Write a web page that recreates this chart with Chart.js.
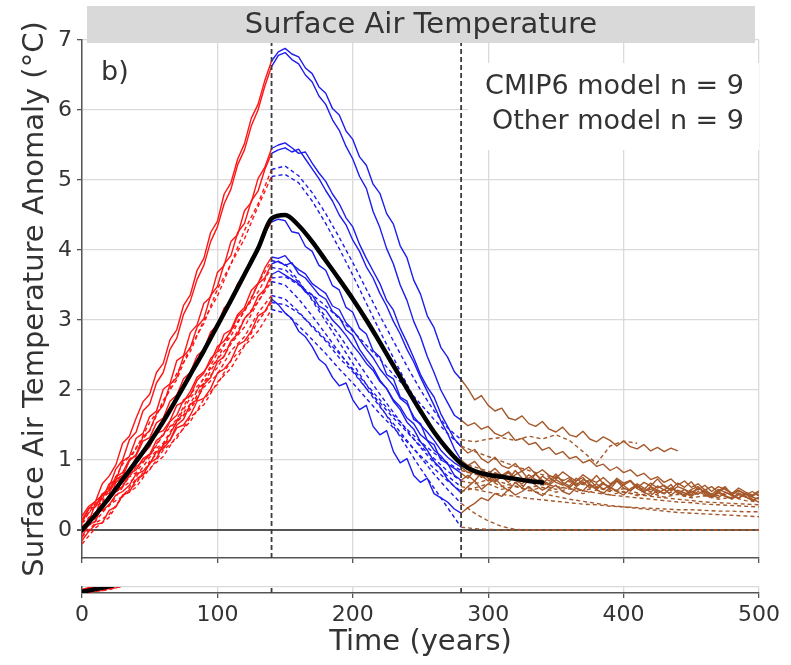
<!DOCTYPE html>
<html>
<head>
<meta charset="utf-8">
<script src="https://cdn.jsdelivr.net/npm/chart.js@4.4.1/dist/chart.umd.min.js"></script>
<style>
  html, body { margin: 0; padding: 0; background: #fff; }
  #wrap { position: relative; width: 791px; height: 665px; }
  canvas { position: absolute; left: 0; }
  #main { top: 0; }
  #strip { top: 560px; }
</style>
</head>
<body>
<div id="wrap">
  <canvas id="main" width="791" height="600"></canvas>
  <canvas id="strip" width="791" height="105"></canvas>
</div>
<script>
// axis ticks and limits
const xTicks = [0, 100, 200, 300, 400, 500];
const yTicks = [0, 1, 2, 3, 4, 5, 6, 7];
const yRange = [-0.4, 7];
const stripRange = [-0.1, 0.4];
// end of ramp-up and end of ramp-down (years)
const phaseBounds = [140, 280];

const panelTitle = 'Surface Air Temperature';
const panelTag = 'b)';
const modelCounts = ['CMIP6 model n = 9', 'Other model n = 9'];

const years5 = [
  0, 5, 10, 15, 20, 25, 30, 35, 40, 45,
  50, 55, 60, 65, 70, 75, 80, 85, 90, 95,
  100, 105, 110, 115, 120, 125, 130, 135, 140, 145,
  150, 155, 160, 165, 170, 175, 180, 185, 190, 195,
  200, 205, 210, 215, 220, 225, 230, 235, 240, 245,
  250, 255, 260, 265, 270, 275, 280, 285, 290, 295,
  300, 305, 310, 315, 320, 325, 330, 335, 340, 345,
  350, 355, 360, 365, 370, 375, 380, 385, 390, 395,
  400, 405, 410, 415, 420, 425, 430, 435, 440, 445,
  450, 455, 460, 465, 470, 475, 480, 485, 490, 495,
  500
];
const years10 = [
  0, 10, 20, 30, 40, 50, 60, 70, 80, 90,
  100, 110, 120, 130, 140, 150, 160, 170, 180, 190,
  200, 210, 220, 230, 240, 250, 260, 270, 280, 290,
  300, 310, 320, 330, 340, 350, 360, 370, 380, 390,
  400, 410, 420, 430, 440, 450, 460, 470, 480, 490,
  500
];
const meanYears = [
  0, 10, 20, 30, 40, 50, 60, 70, 80, 90,
  100, 110, 120, 130, 140, 150, 160, 170, 180, 190,
  200, 210, 220, 230, 240, 250, 260, 270, 280, 290,
  300, 310, 320, 330, 340
];

// multi-model mean (°C)
const meanAnomaly = [
  0.00, 0.22, 0.46, 0.72, 0.98, 1.25, 1.55, 1.88, 2.22, 2.56,
  2.92, 3.28, 3.65, 4.02, 4.45, 4.50, 4.35, 4.12, 3.85, 3.58,
  3.30, 3.00, 2.68, 2.35, 2.02, 1.70, 1.40, 1.15, 0.95, 0.84,
  0.79, 0.76, 0.73, 0.70, 0.68
];

// CMIP6 runs on years5: 0-140 / 145-280 / 285-500
const cmip1 = [
  0.10, 0.30, 0.41, 0.66, 0.77, 0.93, 1.24, 1.34, 1.60, 1.83, 1.94, 2.25, 2.38, 2.72, 2.86, 3.21, 3.36, 3.71, 3.88, 4.25, 4.41, 4.80, 4.96, 5.30, 5.52, 5.88, 6.08, 6.42, 6.70,
  6.83, 6.88, 6.80, 6.76, 6.60, 6.52, 6.33, 6.24, 6.02, 5.93, 5.70, 5.58, 5.33, 5.21, 4.94, 4.81, 4.52, 4.37, 4.06, 3.89, 3.57, 3.37, 3.06, 2.89, 2.61, 2.47, 2.26, 2.15,
  2.02, 1.86, 1.92, 1.78, 1.70, 1.74, 1.60, 1.57, 1.63, 1.52, 1.48, 1.55, 1.44, 1.40, 1.47, 1.36, 1.33, 1.41, 1.30, 1.26, 1.33, 1.28, 1.20, 1.27, 1.19, 1.16, 1.22, 1.13, 1.18, 1.12, 1.17, 1.13,
  null, null, null, null, null, null, null, null, null, null, null, null
];
const cmip2 = [
  -0.05, 0.18, 0.22, 0.50, 0.61, 0.87, 1.00, 1.29, 1.40, 1.70, 1.80, 2.10, 2.25, 2.58, 2.74, 3.08, 3.27, 3.58, 3.78, 4.12, 4.33, 4.66, 4.87, 5.22, 5.43, 5.77, 6.00, 6.34, 6.62,
  6.78, 6.82, 6.72, 6.66, 6.50, 6.40, 6.20, 6.08, 5.86, 5.71, 5.48, 5.30, 5.05, 4.88, 4.55, 4.32, 4.02, 3.80, 3.50, 3.28, 2.98, 2.76, 2.48, 2.25, 2.00, 1.82, 1.64, 1.57,
  1.49, 1.53, 1.44, 1.48, 1.38, 1.34, 1.40, 1.28, 1.31, 1.22, 1.25, 1.14, 1.18, 1.08, 1.12, 1.02, 1.05, 0.96, 1.00, 0.91, 0.94, 0.85, 0.90, 0.82, 0.86, 0.77, 0.81, 0.72, 0.76, 0.68,
  0.73, 0.64, 0.70, 0.61, 0.66, 0.57, 0.62, 0.54, 0.60, 0.52, 0.57, 0.50, 0.55, 0.49
];
const cmip3 = [
  0.05, 0.12, 0.38, 0.44, 0.66, 0.71, 0.98, 1.05, 1.31, 1.38, 1.62, 1.70, 2.01, 2.09, 2.42, 2.49, 2.82, 2.93, 3.24, 3.33, 3.68, 3.78, 4.12, 4.22, 4.56, 4.68, 5.02, 5.18, 5.45,
  5.50, 5.53, 5.46, 5.38, 5.40, 5.24, 5.10, 4.98, 4.80, 4.66, 4.46, 4.33, 4.08, 3.88, 3.70, 3.52, 3.28, 3.14, 2.88, 2.68, 2.46, 2.22, 2.04, 1.90, 1.66, 1.48, 1.30, 1.19,
  1.10, 1.15, 1.02, 0.96, 1.04, 0.92, 0.88, 0.95, 0.84, 0.90, 0.80, 0.86, 0.78, 0.74, 0.83, 0.76, 0.70, 0.79, 0.72, 0.68, 0.75, 0.66, 0.72, 0.64, 0.70, 0.62, 0.58, 0.67, 0.60, 0.64,
  0.56, 0.62, 0.58, 0.53, 0.60, 0.55, 0.51, 0.58, 0.54, 0.50, 0.56, 0.52, 0.48, 0.54
];
const cmip4 = [
  -0.10, 0.08, 0.12, 0.38, 0.42, 0.68, 0.76, 0.99, 1.08, 1.33, 1.42, 1.66, 1.78, 2.08, 2.18, 2.48, 2.60, 2.90, 3.02, 3.35, 3.48, 3.80, 3.92, 4.25, 4.38, 4.70, 4.84, 5.15, 5.38,
  5.43, 5.46, 5.40, 5.44, 5.30, 5.16, 5.02, 4.85, 4.70, 4.50, 4.36, 4.14, 3.98, 3.76, 3.60, 3.38, 3.20, 2.98, 2.80, 2.58, 2.40, 2.18, 1.98, 1.78, 1.56, 1.38, 1.16, 1.00,
  0.92, 0.98, 0.86, 0.80, 0.88, 0.78, 0.84, 0.74, 0.70, 0.79, 0.72, 0.66, 0.75, 0.68, 0.64, 0.72, 0.62, 0.69, 0.60, 0.66, 0.58, 0.64, 0.70, 0.60, 0.56, 0.63, 0.55, 0.61, 0.52, 0.58,
  0.50, 0.57, 0.53, 0.48, 0.55, 0.50, 0.46, 0.53, 0.48, 0.44, 0.51, 0.47, 0.43, 0.46
];
const cmip5 = [
  0.15, 0.31, 0.33, 0.52, 0.56, 0.76, 0.82, 1.01, 1.06, 1.27, 1.32, 1.53, 1.60, 1.84, 1.93, 2.16, 2.25, 2.49, 2.58, 2.83, 2.93, 3.17, 3.27, 3.52, 3.62, 3.88, 3.98, 4.24, 4.40,
  4.44, 4.42, 4.26, 4.24, 4.05, 3.98, 3.78, 3.71, 3.49, 3.43, 3.18, 3.11, 2.88, 2.80, 2.56, 2.47, 2.22, 2.16, 1.90, 1.84, 1.58, 1.52, 1.28, 1.22, 1.00, 0.95, 0.78, 0.71,
  0.78, 0.70, 0.82, 0.74, 0.68, 0.79, 0.72, 0.85, 0.74, 0.69, 0.80, 0.71, 0.66, 0.77, 0.70, 0.75, 0.64, 0.72, 0.68, 0.78, 0.66, 0.62, 0.74, 0.67, 0.71, 0.60, 0.68, 0.63, 0.73, 0.62,
  0.58, 0.67, 0.61, 0.69, 0.57, 0.64, 0.55, 0.62, 0.58, 0.52, 0.60, 0.54, 0.50, 0.56
];
const cmip6 = [
  0.00, 0.14, 0.16, 0.33, 0.44, 0.55, 0.62, 0.80, 0.86, 1.02, 1.08, 1.28, 1.35, 1.55, 1.64, 1.86, 1.92, 2.14, 2.24, 2.45, 2.55, 2.80, 2.86, 3.08, 3.18, 3.42, 3.52, 3.74, 3.90,
  3.88, 3.92, 3.80, 3.72, 3.66, 3.52, 3.45, 3.38, 3.20, 3.15, 2.96, 2.86, 2.72, 2.58, 2.46, 2.30, 2.18, 2.06, 1.88, 1.80, 1.62, 1.50, 1.40, 1.28, 1.14, 1.04, 0.96, 0.90,
  0.82, 0.86, 0.75, 0.80, 0.70, 0.76, 0.82, 0.71, 0.66, 0.74, 0.80, 0.69, 0.64, 0.72, 0.66, 0.60, 0.70, 0.75, 0.64, 0.58, 0.66, 0.61, 0.56, 0.65, 0.70, 0.59, 0.54, 0.62, 0.57, 0.52,
  0.60, 0.55, 0.50, 0.58, 0.62, 0.52, 0.47, 0.55, 0.49, 0.45, 0.53, 0.48, 0.42, 0.47
];
const cmip7 = [
  0.20, 0.34, 0.41, 0.50, 0.52, 0.72, 0.78, 0.85, 1.04, 1.08, 1.19, 1.38, 1.42, 1.56, 1.78, 1.83, 1.98, 2.18, 2.26, 2.40, 2.62, 2.70, 2.84, 3.05, 3.14, 3.30, 3.52, 3.60, 3.80,
  3.84, 3.78, 3.82, 3.66, 3.60, 3.48, 3.36, 3.30, 3.12, 3.04, 2.86, 2.78, 2.58, 2.44, 2.32, 2.14, 2.02, 1.84, 1.72, 1.54, 1.44, 1.26, 1.14, 0.98, 0.88, 0.72, 0.62, 0.53,
  0.62, 0.70, 0.58, 0.66, 0.74, 0.63, 0.56, 0.68, 0.60, 0.72, 0.64, 0.57, 0.62,
  null, null, null, null, null, null, null, null, null, null, null, null, null, null, null, null,
  null, null, null, null, null, null, null, null, null, null, null, null, null, null, null
];
const cmip8 = [
  -0.15, -0.02, 0.08, 0.10, 0.28, 0.33, 0.50, 0.54, 0.72, 0.78, 0.96, 1.02, 1.22, 1.28, 1.50, 1.58, 1.80, 1.86, 2.08, 2.18, 2.40, 2.48, 2.70, 2.80, 3.02, 3.12, 3.34, 3.44, 3.65,
  3.70, 3.64, 3.58, 3.52, 3.40, 3.36, 3.20, 3.14, 3.00, 2.90, 2.78, 2.64, 2.52, 2.38, 2.28, 2.12, 2.02, 1.86, 1.76, 1.60, 1.52, 1.36, 1.28, 1.14, 1.06, 0.94, 0.88, 0.81,
  0.74, 0.86, 0.78, 0.70, 0.82, 0.76, 0.68, 0.79, 0.84, 0.72, 0.66, 0.77, 0.70, 0.80, 0.68, 0.63, 0.74, 0.66, 0.72, 0.61, 0.68, 0.58, 0.70, 0.64, 0.56, 0.66, 0.60, 0.54, 0.63, 0.57,
  0.65, 0.52, 0.58, 0.50, 0.60, 0.54, 0.48, 0.56, 0.62, 0.50, 0.46, 0.52, 0.44, 0.40
];
const cmip9 = [
  0.05, 0.08, 0.24, 0.28, 0.36, 0.50, 0.55, 0.64, 0.80, 0.84, 0.94, 1.12, 1.16, 1.28, 1.46, 1.50, 1.64, 1.84, 1.88, 2.02, 2.24, 2.30, 2.42, 2.64, 2.70, 2.84, 3.06, 3.12, 3.30,
  3.22, 3.10, 3.02, 2.84, 2.76, 2.62, 2.44, 2.36, 2.18, 2.06, 2.10, 1.86, 1.72, 1.78, 1.48, 1.36, 1.42, 1.12, 0.96, 1.02, 0.78, 0.68, 0.74, 0.52, 0.46, 0.40, 0.30, 0.24,
  0.32, 0.38, 0.46, 0.42, 0.52, 0.48, 0.58, 0.50, 0.55, 0.62, 0.54, 0.49, 0.58, 0.64, 0.55, 0.51, 0.60, 0.56, 0.66, 0.58, 0.52, 0.61, 0.55, 0.50, 0.59, 0.64, 0.54, 0.49, 0.57, 0.52,
  0.60, 0.54, 0.48, 0.56, 0.51, 0.58, 0.50, 0.46, 0.54, 0.49, 0.45, 0.52, 0.47, 0.44
];

// other models on years10: 0-140 / 150-280 / 290-500
const other1 = [
  0.00, 0.22, 0.58, 0.80, 1.18, 1.42, 1.85, 2.15, 2.62, 2.95, 3.44, 3.80, 4.28, 4.66, 5.15,
  5.20, 5.06, 4.82, 4.52, 4.18, 3.82, 3.44, 3.06, 2.70, 2.34, 2.00, 1.70, 1.46, 1.29,
  1.26, 1.30, 1.32, 1.28, 1.34, 1.30, 1.36, 1.28, 1.12, 0.95, 1.20, 1.27, 1.24,
  null, null, null, null, null, null, null, null, null
];
const other2 = [
  0.10, 0.38, 0.58, 0.94, 1.16, 1.54, 1.80, 2.24, 2.55, 3.00, 3.34, 3.80, 4.16, 4.62, 5.05,
  5.08, 4.96, 4.70, 4.38, 4.02, 3.64, 3.24, 2.84, 2.46, 2.08, 1.72, 1.40, 1.14, 0.95,
  0.90, 0.84, 0.79, 0.74, 0.70, 0.66, 0.62, 0.59, 0.56, 0.53, 0.50, 0.48, 0.46, 0.44, 0.42, 0.40, 0.39, 0.37, 0.36, 0.35, 0.34, 0.33
];
const other3 = [
  -0.20, 0.03, 0.18, 0.49, 0.66, 0.98, 1.18, 1.55, 1.80, 2.18, 2.44, 2.84, 3.12, 3.52, 3.85,
  3.80, 3.56, 3.28, 2.98, 2.68, 2.38, 2.08, 1.78, 1.48, 1.18, 0.88, 0.60, 0.32, 0.04,
  0.02, 0.01, 0.00, 0.00, 0.00, 0.00, 0.00, 0.00, 0.00, 0.00, 0.00, 0.00, 0.00, 0.00, 0.00, 0.00, 0.00, 0.00, 0.00, 0.00, 0.00, 0.00
];
const other4 = [
  0.05, 0.20, 0.46, 0.62, 0.90, 1.07, 1.38, 1.58, 1.94, 2.16, 2.53, 2.77, 3.14, 3.40, 3.75,
  3.72, 3.54, 3.30, 3.04, 2.78, 2.50, 2.22, 1.94, 1.68, 1.42, 1.18, 0.96, 0.77, 0.62,
  0.58, 0.54, 0.51, 0.48, 0.45, 0.43, 0.41, 0.39, 0.37, 0.36, 0.34, 0.33, 0.32, 0.31, 0.30, 0.29, 0.29, 0.28, 0.27, 0.27, 0.26, 0.26
];
const other5 = [
  0.00, 0.21, 0.34, 0.61, 0.76, 1.04, 1.22, 1.54, 1.75, 2.10, 2.32, 2.66, 2.90, 3.26, 3.55,
  3.50, 3.30, 3.06, 2.80, 2.54, 2.28, 2.02, 1.76, 1.52, 1.28, 1.04, 0.80, 0.58, 0.38,
  0.24, 0.13, 0.05, 0.01, 0.00, 0.00, 0.00, 0.00, 0.00, 0.00, 0.00, 0.00, 0.00, 0.00, 0.00, 0.00, 0.00, 0.00, 0.00, 0.00, 0.00, 0.00
];
const other6 = [
  0.15, 0.34, 0.44, 0.70, 0.82, 1.10, 1.24, 1.55, 1.72, 2.04, 2.22, 2.56, 2.76, 3.10, 3.35,
  3.30, 3.12, 2.90, 2.70, 2.46, 2.26, 2.02, 1.82, 1.60, 1.40, 1.20, 1.02, 0.84, 0.70,
  0.66, 0.72, 0.62, 0.68, 0.60, 0.65, 0.58, 0.63, 0.56, 0.61, 0.55, 0.59, 0.53, 0.58, 0.52, 0.56, 0.50, 0.54, 0.49, 0.53, 0.48, 0.50
];
const other7 = [
  -0.10, 0.10, 0.22, 0.48, 0.61, 0.88, 1.05, 1.35, 1.55, 1.87, 2.08, 2.42, 2.64, 2.98, 3.25,
  3.22, 3.10, 2.92, 2.72, 2.52, 2.30, 2.08, 1.86, 1.64, 1.44, 1.26, 1.10, 0.96, 0.85,
  0.80, 0.74, 0.68, 0.62, 0.57, 0.52, 0.48, 0.44, 0.41, 0.38, 0.35, 0.33, 0.31, 0.29, 0.27, 0.25, 0.24, 0.23, 0.22, 0.21, 0.20, 0.19
];
const other8 = [
  0.00, 0.13, 0.36, 0.48, 0.73, 0.86, 1.14, 1.31, 1.61, 1.79, 2.11, 2.31, 2.63, 2.84, 3.15,
  3.10, 2.92, 2.72, 2.52, 2.30, 2.10, 1.88, 1.66, 1.46, 1.26, 1.06, 0.88, 0.70, 0.55,
  0.60, 0.66, 0.58, 0.63, 0.56, 0.61, 0.54, 0.59, 0.52, 0.57, 0.50, 0.55, 0.49, 0.53, 0.47, 0.51, 0.46, 0.49, 0.44, 0.47, 0.42, 0.40
];
const other9 = [
  0.10, 0.25, 0.49, 0.64, 0.91, 1.06, 1.36, 1.56, 1.89, 2.10, 2.44, 2.67, 3.02, 3.26, 3.60,
  3.62, 3.50, 3.36, 3.20, 3.02, 2.84, 2.64, 2.44, 2.22, 2.02, 1.80, 1.58, 1.38, 1.20,
  1.12, 1.05, 0.98, 0.91, 0.85, 0.79, 0.74, 0.69, 0.65, 0.61, 0.57, 0.54, 0.51, 0.48, 0.46, 0.44, 0.42, 0.40, 0.39, 0.38, 0.37, 0.36
];

const cmipRuns = [cmip1, cmip2, cmip3, cmip4, cmip5, cmip6, cmip7, cmip8, cmip9];
const otherRuns = [other1, other2, other3, other4, other5, other6, other7, other8, other9];

const FONT = 'DejaVu Sans';
const INK = '#333333';
const SPINE = '#555555';
const GRID = '#dadada';
const RED = '#ff1414';
const BLUE = '#1c1cf0';
const BROWN = '#a5582a';

Chart.defaults.font.family = FONT;
Chart.defaults.color = INK;

// split one run into its three phases (ramp-up, ramp-down, recovery)
function runSets(years, values, dashed) {
  const pts = years.map((x, i) => ({x: x, y: values[i]}));
  const a = years.indexOf(phaseBounds[0]);
  const b = years.indexOf(phaseBounds[1]);
  const style = {
    borderWidth: 1.4, borderDash: dashed ? [4, 3] : [], pointRadius: 0,
    clip: 0, borderJoinStyle: 'round', spanGaps: false
  };
  return {
    up: Object.assign({data: pts.slice(0, a + 1), borderColor: RED, order: 4}, style),
    down: Object.assign({data: pts.slice(a, b + 1), borderColor: BLUE, order: 3}, style),
    after: Object.assign({data: pts.slice(b), borderColor: BROWN, order: 2}, style)
  };
}

const runs = cmipRuns.map(v => runSets(years5, v, false))
  .concat(otherRuns.map(v => runSets(years10, v, true)));

function meanSet() {
  return {
    data: meanYears.map((x, i) => ({x: x, y: meanAnomaly[i]})),
    borderColor: '#000', borderWidth: 4.5, pointRadius: 0, clip: 0,
    cubicInterpolationMode: 'monotone', borderCapStyle: 'round', borderJoinStyle: 'round',
    order: 0
  };
}

function boundSets(range) {
  return phaseBounds.map(t => ({
    data: [{x: t, y: range[0]}, {x: t, y: range[1]}],
    borderColor: '#3c3c3c', borderWidth: 1.8, borderDash: [5, 3],
    pointRadius: 0, clip: 0, order: 1
  }));
}

const common = {
  responsive: false,
  animation: false,
  events: [],
  plugins: { legend: { display: false }, tooltip: { enabled: false } }
};

// title strip, panel tag and model counts
const decorations = {
  id: 'decorations',
  beforeDatasetsDraw(chart) {
    const {ctx, chartArea: a} = chart;
    ctx.save();
    ctx.fillStyle = '#ffffff';
    ctx.fillRect(468, 63, a.right - 468, 87);
    ctx.restore();
  },
  afterDraw(chart) {
    const {ctx, chartArea: a} = chart;
    ctx.save();
    ctx.fillStyle = '#d9d9d9';
    ctx.fillRect(87, 6, 668, 37);
    ctx.fillStyle = INK;
    ctx.textBaseline = 'middle';
    ctx.textAlign = 'center';
    ctx.font = '29px "' + FONT + '"';
    ctx.fillText(panelTitle, 421, 25);
    ctx.font = '27px "' + FONT + '"';
    ctx.textAlign = 'left';
    ctx.fillText(panelTag, a.left + 19, 73);
    ctx.textAlign = 'right';
    modelCounts.forEach((t, i) => ctx.fillText(t, a.right - 15, 87 + i * 35));
    ctx.restore();
  }
};

new Chart(document.getElementById('main'), {
  type: 'line',
  data: {
    datasets: [meanSet()].concat(boundSets(yRange),
      runs.map(r => r.after), runs.map(r => r.down), runs.map(r => r.up))
  },
  options: Object.assign({}, common, {
    layout: { padding: { top: 40, right: 32, left: 0, bottom: 0 } },
    scales: {
      x: {
        type: 'linear', min: 0, max: 500,
        afterBuildTicks: s => { s.ticks = xTicks.map(v => ({value: v})); },
        afterFit: s => { s.height = 42; },
        ticks: { callback: () => '', font: { size: 22 } },
        grid: { color: GRID, lineWidth: 1.3, tickLength: 5, tickColor: SPINE },
        border: { display: true, color: SPINE, width: 1.5 }
      },
      y: {
        type: 'linear', min: yRange[0], max: yRange[1],
        afterBuildTicks: s => { s.ticks = yTicks.map(v => ({value: v})); },
        afterFit: s => { s.width = 82; },
        ticks: { font: { size: 22 }, padding: 5, color: INK },
        grid: {
          color: c => (c.tick && c.tick.value === 0 ? SPINE : GRID),
          lineWidth: c => (c.tick && c.tick.value === 0 ? 2 : 1.3),
          tickLength: 5, tickColor: SPINE
        },
        border: { display: true, color: SPINE, width: 1.5 },
        title: {
          display: true, text: 'Surface Air Temperature Anomaly (°C)',
          font: { size: 29 }, color: INK, padding: { top: 18, bottom: 0 }
        }
      }
    }
  }),
  plugins: [decorations]
});

// narrow lower panel sharing the time axis
new Chart(document.getElementById('strip'), {
  type: 'line',
  data: {
    datasets: [meanSet()].concat(boundSets(stripRange), runs.map(r => r.up))
  },
  options: Object.assign({}, common, {
    layout: { padding: { top: 27, right: 32, left: 0, bottom: 0 } },
    scales: {
      x: {
        type: 'linear', min: 0, max: 500,
        afterBuildTicks: s => { s.ticks = xTicks.map(v => ({value: v})); },
        afterFit: s => { s.height = 72; },
        ticks: { font: { size: 22 }, padding: 4, color: INK, maxRotation: 0, autoSkip: false },
        grid: { color: GRID, lineWidth: 1.3, tickLength: 5, tickColor: SPINE },
        border: { display: true, color: SPINE, width: 1.5 },
        title: {
          display: true, text: 'Time (years)', font: { size: 29 }, color: INK,
          padding: { top: 0, bottom: 5 }
        }
      },
      y: {
        type: 'linear', min: stripRange[0], max: stripRange[1],
        afterBuildTicks: s => { s.ticks = [{value: stripRange[1]}]; },
        afterFit: s => { s.width = 82; },
        ticks: { callback: () => '' },
        grid: { color: GRID, lineWidth: 1.3, drawTicks: false },
        border: { display: true, color: SPINE, width: 1.5 }
      }
    }
  })
});
</script>
</body>
</html>
